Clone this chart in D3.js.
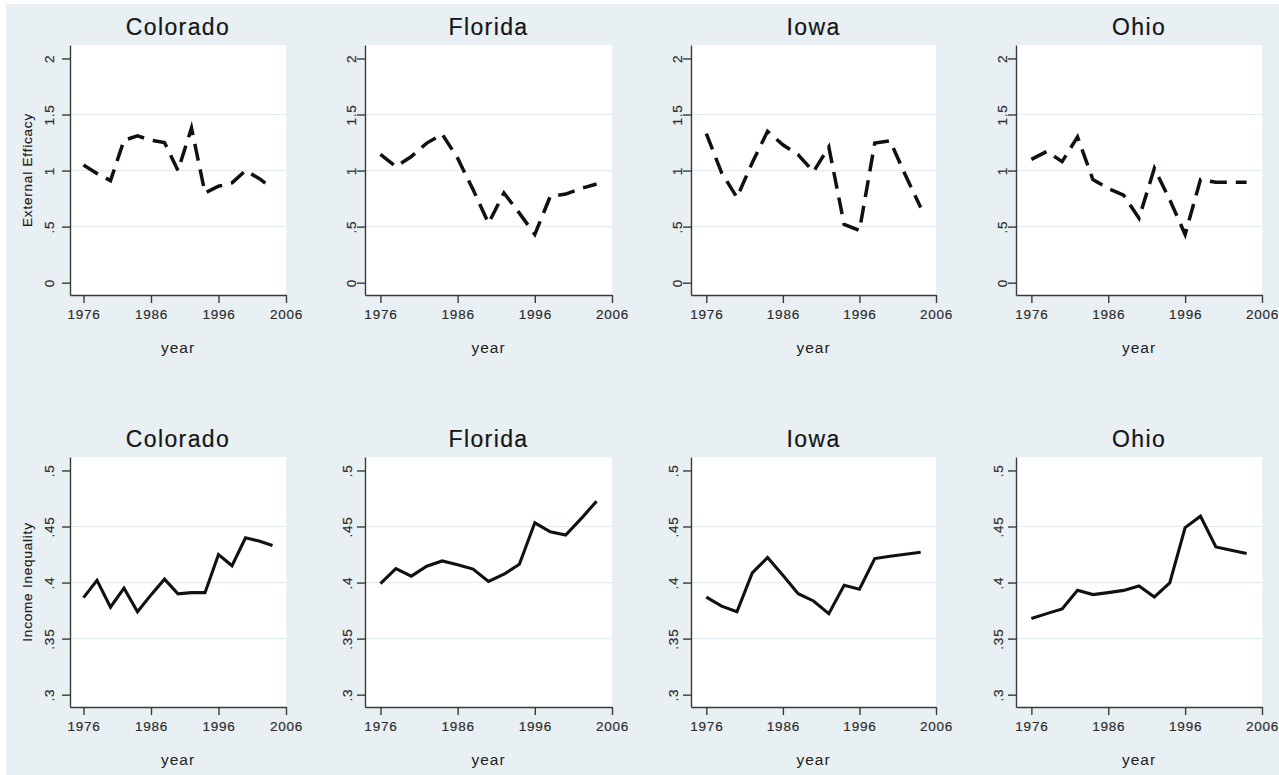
<!DOCTYPE html>
<html>
  <head>
    <meta charset="utf-8">
    <style>
      body {
        margin:0;
        background:#ffffff;
        font-family:"Liberation Sans", Arial, Helvetica, sans-serif;
      }
      .axis .domain, .axis .tick line {
        stroke:#3a3a3a;
        stroke-width:1.4;
      }
      .axis .tick text {
        fill:#2e2e2e;
        stroke:#2e2e2e;
        stroke-width:0.2;
        font-size:13.5px;
        letter-spacing:0.8px;
      }
      .grid {
        stroke:#e2ebef;
        stroke-width:1.2;
      }
      .title {
        fill:#161616;
        stroke:#161616;
        stroke-width:0.2;
        font-size:23px;
        letter-spacing:1.4px;
      }
      .xtitle {
        fill:#222222;
        font-size:15.5px;
        letter-spacing:1px;
      }
      .ytitle {
        fill:#1a1a1a;
        stroke:#1a1a1a;
        stroke-width:0.15;
        font-size:13.5px;
        letter-spacing:0.8px;
      }
    </style>
  </head>
  <body>
    <script src="https://cdnjs.cloudflare.com/ajax/libs/d3/7.8.5/d3.min.js"></script>
    <script>
      var states = ["Colorado", "Florida", "Iowa", "Ohio"];
      var years = [1976, 1978, 1980, 1982, 1984, 1986, 1988, 1990, 1992, 1994, 1996, 1998, 2000, 2002, 2004];

      // external efficacy (top row, dashed)
      var efficacyColorado = [1.05, 0.975, 0.91, 1.27, 1.31, 1.27, 1.25, 1.00, 1.38, 0.80, 0.86, 0.89, 1.00, 0.93, 0.84];
      var efficacyFlorida  = [1.145, 1.035, 1.125, 1.245, 1.325, 1.11, 0.83, 0.53, 0.80, 0.62, 0.43, 0.77, 0.79, 0.84, 0.88];
      var efficacyIowa     = [1.33, 0.98, 0.76, 1.07, 1.35, 1.23, 1.14, 0.99, 1.21, 0.52, 0.465, 1.245, 1.265, 0.96, 0.67];
      var efficacyOhio     = [1.10, 1.17, 1.08, 1.30, 0.92, 0.84, 0.78, 0.575, 1.02, 0.74, 0.43, 0.92, 0.895, 0.895, 0.895];

      // income inequality (bottom row, solid)
      var inequalityColorado = [0.3866, 0.402, 0.378, 0.395, 0.374, 0.389, 0.403, 0.390, 0.391, 0.391, 0.425, 0.415, 0.440, 0.437, 0.433];
      var inequalityFlorida  = [0.399, 0.4125, 0.4057, 0.4146, 0.4193, 0.4158, 0.412, 0.401, 0.4074, 0.4164, 0.4533, 0.4452, 0.4423, 0.457, 0.4726];
      var inequalityIowa     = [0.387, 0.379, 0.374, 0.4086, 0.4223, 0.4065, 0.390, 0.3836, 0.3723, 0.3976, 0.394, 0.4214, 0.4235, 0.4253, 0.4271];
      var inequalityOhio     = [0.3679, 0.3723, 0.3765, 0.3932, 0.3893, 0.391, 0.393, 0.397, 0.3872, 0.3997, 0.449, 0.4592, 0.4318, 0.4289, 0.4259];

      var yearTicks = [1976, 1986, 1996, 2006];
      var efficacyTicks = [0, 0.5, 1, 1.5, 2];
      var efficacyTickLabels = ["0", ".5", "1", "1.5", "2"];
      var inequalityTicks = [0.3, 0.35, 0.4, 0.45, 0.5];
      var inequalityTickLabels = [".3", ".35", ".4", ".45", ".5"];

      var width = 1279;
      var height = 775;

      // plot region edges per column / row
      var plotLeft = [70, 365, 691, 1016];
      var plotRight = [286, 612, 936, 1262];
      var rowTop = [45, 457];
      var rowBottom = [295, 707];

      var rows = [
        {
          label:"External Efficacy",
          series:[efficacyColorado, efficacyFlorida, efficacyIowa, efficacyOhio],
          domain:[-0.11, 2.12],
          ticks:efficacyTicks,
          tickLabels:efficacyTickLabels,
          dash:"17,9",
          labelOffset:[20.5, 13.5, 13.5, 13.5]
        },
        {
          label:"Income Inequality",
          series:[inequalityColorado, inequalityFlorida, inequalityIowa, inequalityOhio],
          domain:[0.289, 0.512],
          ticks:inequalityTicks,
          tickLabels:inequalityTickLabels,
          dash:null,
          labelOffset:[21, 18, 18, 18]
        }
      ];

      var svg = d3.select("body").append("svg")
        .attr("width", width)
        .attr("height", height);

      svg.append("rect")
        .attr("x", 6)
        .attr("y", 4)
        .attr("width", width - 6)
        .attr("height", height - 4)
        .attr("fill", "#e9f0f3");

      rows.forEach(function (row, r) {
        states.forEach(function (state, c) {
          var x = d3.scaleLinear()
            .domain([1974, 2006])
            .range([plotLeft[c], plotRight[c]]);
          var y = d3.scaleLinear()
            .domain(row.domain)
            .range([rowBottom[r], rowTop[r]]);

          var g = svg.append("g");

          g.append("rect")
            .attr("x", plotLeft[c])
            .attr("y", rowTop[r])
            .attr("width", plotRight[c] - plotLeft[c])
            .attr("height", rowBottom[r] - rowTop[r])
            .attr("fill", "#ffffff");

          g.selectAll(".grid")
            .data(row.ticks.slice(1, -1))
            .enter().append("line")
            .attr("class", "grid")
            .attr("x1", plotLeft[c])
            .attr("x2", plotRight[c])
            .attr("y1", function (d) { return y(d); })
            .attr("y2", function (d) { return y(d); });

          var line = d3.line()
            .x(function (d, i) { return x(years[i]); })
            .y(function (d) { return y(d); });

          g.append("path")
            .datum(row.series[c])
            .attr("d", line)
            .attr("fill", "none")
            .attr("stroke", "#111111")
            .attr("stroke-width", row.dash ? 3.5 : 3.1)
            .attr("stroke-linejoin", "miter")
            .attr("stroke-dasharray", row.dash);

          g.append("g")
            .attr("class", "axis")
            .attr("transform", "translate(0," + rowBottom[r] + ")")
            .call(d3.axisBottom(x).tickValues(yearTicks).tickSize(8).tickSizeOuter(0).tickPadding(6)
              .tickFormat(d3.format("d")))
            .call(function (a) {
              a.selectAll("text").attr("font-family", null).attr("font-size", null);
            });

          var yAxis = g.append("g")
            .attr("class", "axis")
            .attr("transform", "translate(" + plotLeft[c] + ",0)")
            .call(d3.axisLeft(y).tickValues(row.ticks).tickSize(8).tickSizeOuter(0)
              .tickFormat(function (d, i) { return row.tickLabels[i]; }));

          yAxis.selectAll("text")
            .attr("font-family", null)
            .attr("font-size", null)
            .attr("x", 0)
            .attr("y", 0)
            .attr("dy", "0.36em")
            .attr("text-anchor", "middle")
            .attr("transform", "translate(" + (-row.labelOffset[c]) + ",0) rotate(-90)");

          var cx = (plotLeft[c] + plotRight[c]) / 2;

          g.append("text")
            .attr("class", "title")
            .attr("x", cx)
            .attr("y", rowTop[r] - 10)
            .attr("text-anchor", "middle")
            .text(state);

          g.append("text")
            .attr("class", "xtitle")
            .attr("x", cx)
            .attr("y", rowBottom[r] + 58)
            .attr("text-anchor", "middle")
            .text("year");

          if (c === 0) {
            g.append("text")
              .attr("class", "ytitle")
              .attr("transform", "translate(27.5," + ((rowTop[r] + rowBottom[r]) / 2) + ") rotate(-90)")
              .attr("dy", "0.36em")
              .attr("text-anchor", "middle")
              .text(row.label);
          }
        });
      });
    </script>
  </body>
</html>
